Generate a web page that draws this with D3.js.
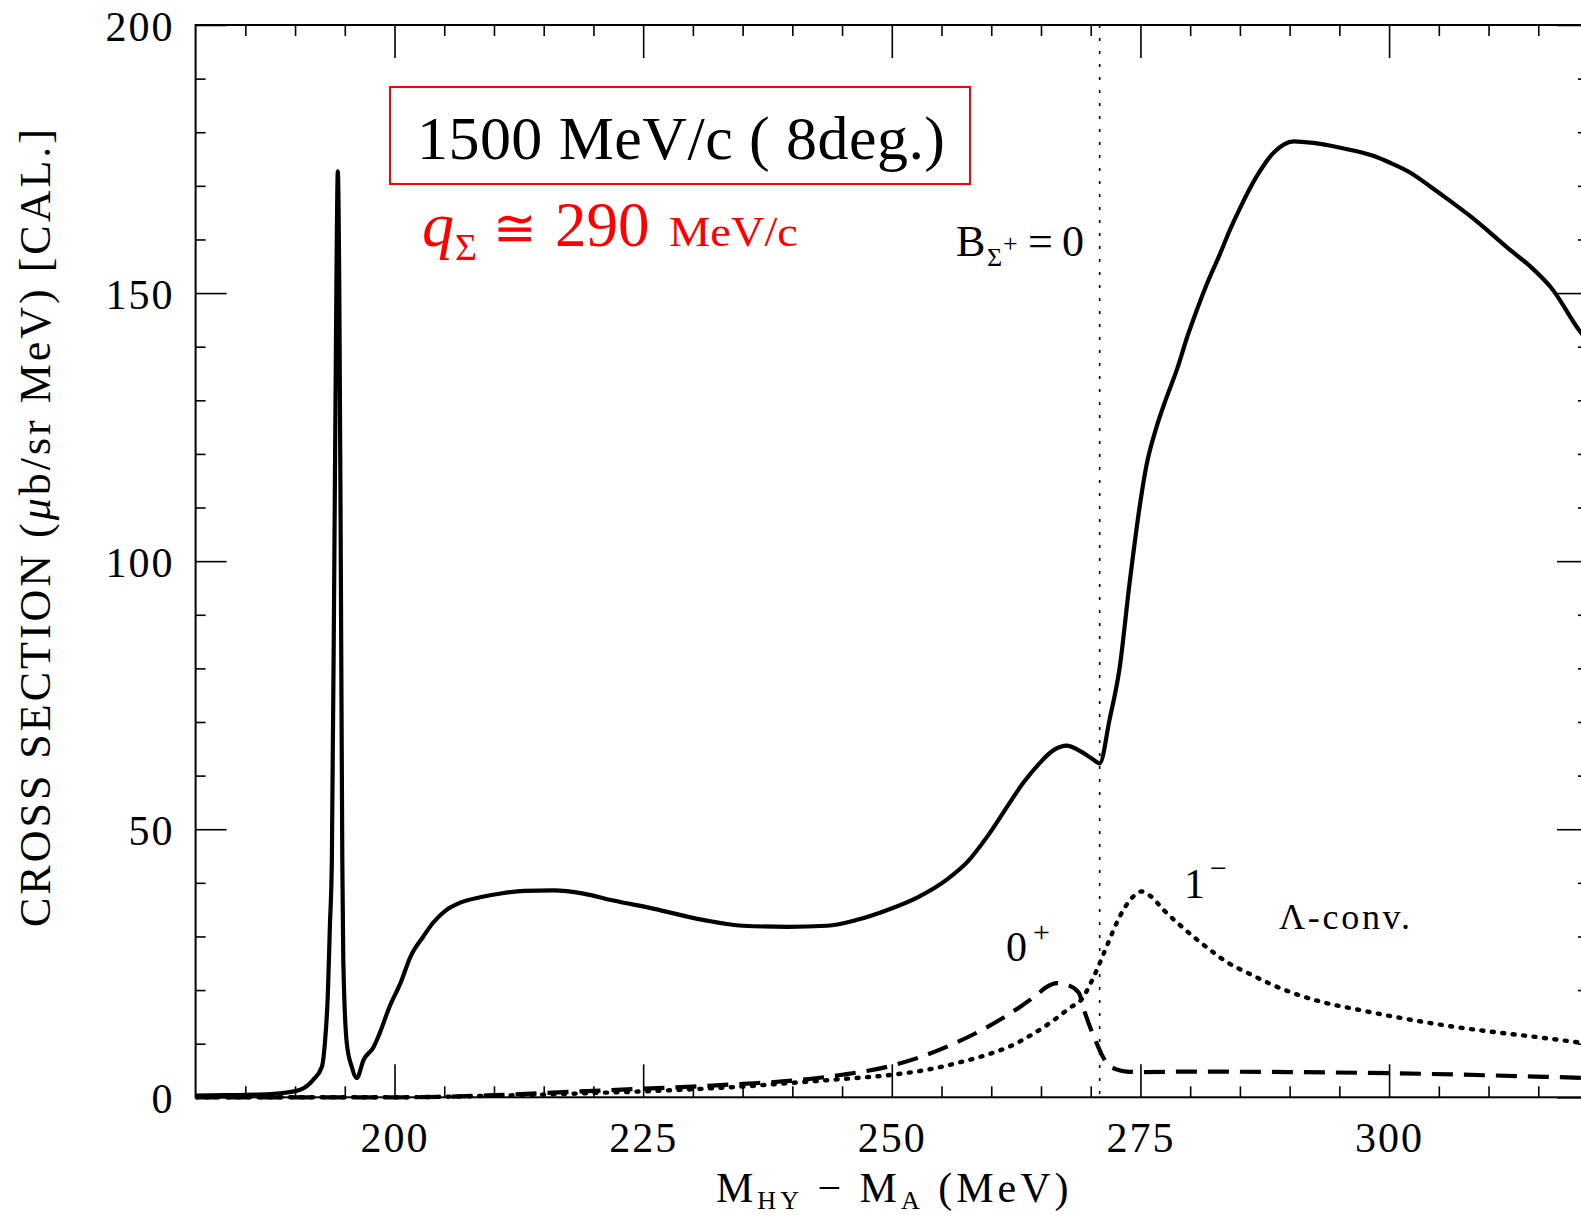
<!DOCTYPE html>
<html>
<head>
<meta charset="utf-8">
<script src="https://cdn.jsdelivr.net/npm/d3@7"></script>
<style>
  html, body { margin: 0; padding: 0; background: #fff; }
  svg { display: block; }
  .axis text { font-family: "Liberation Serif", serif; font-size: 42px; fill: #000; letter-spacing: 2px; }
  .axis line { stroke: #000; stroke-width: 1.6px; }
  .axis path { display: none; }
</style>
</head>
<body>
<svg id="chart" width="1581" height="1222"></svg>
<script>
// Missing-mass axis ticks (MeV) and cross-section axis ticks
const xMajorTicks = [200, 225, 250, 275, 300];
const xMinorTicks = [185, 190, 195, 205, 210, 215, 220, 230, 235, 240, 245, 255, 260, 265, 270, 280, 285, 290, 295, 305, 310, 315];
const yMajorTicks = [0, 50, 100, 150, 200];
const yMinorTicks = [10, 20, 30, 40, 60, 70, 80, 90, 110, 120, 130, 140, 160, 170, 180, 190];

// Total calculated spectrum (solid)
const totalE = [180, 183, 186, 188.5, 190.5, 191.8, 192.7, 193.0, 193.3, 193.5, 193.7, 193.95, 194.15, 194.3, 194.45, 194.6, 194.75, 194.85, 195.2, 195.7, 196.2, 196.9, 197.9, 198.5, 199.5, 200.6, 201.6, 202.9, 203.9, 205.2, 206.6, 208.6, 211, 213, 216, 219, 222, 226, 231, 235, 239.5, 243.5, 246.5, 249.5, 252.6, 255.6, 257.6, 259.7, 261.7, 263.2, 264.8, 266.3, 267.6, 268.9, 270.1, 270.9, 271.9, 272.9, 273.9, 274.9, 275.6, 276.6, 277.6, 278.7, 279.7, 280.7, 281.7, 283.0, 284.0, 285.0, 286.7, 288.4, 290.4, 292.4, 295.1, 298.4, 300.1, 302.1, 304.2, 306.2, 308.2, 310.2, 312.2, 314.3, 316.3, 319.3, 320];
const totalV = [0.3, 0.4, 0.5, 0.75, 1.4, 3.2, 5.7, 10.1, 19.4, 31.8, 44.3, 100, 150, 172.7, 150, 100, 44.3, 25.6, 10.1, 5.7, 3.6, 7.0, 9.4, 11.9, 16.9, 21.3, 26.2, 30.0, 32.6, 34.9, 36.3, 37.3, 38.1, 38.5, 38.6, 38.0, 36.7, 35.2, 33.1, 32.0, 31.8, 32.0, 33.1, 34.9, 37.3, 40.7, 43.9, 48.9, 54.5, 58.6, 62.2, 64.8, 65.6, 64.6, 63.2, 62.3, 70.5, 80.0, 95.8, 109.9, 117.8, 124.9, 130.4, 135.9, 141.8, 147.0, 151.8, 157.3, 161.8, 165.8, 171.8, 176.2, 178.3, 178.0, 177.1, 175.6, 174.3, 172.5, 169.8, 167.1, 164.3, 161.2, 158.0, 154.8, 151.0, 142.6, 141.0];

// 0+ component (dashed)
const zeroPlusE = [180, 200, 205, 210, 215, 220, 225, 230, 235, 240, 245, 250, 253, 256, 259, 261, 263, 264.5, 265.5, 266.6, 267.6, 268.8, 269.4, 270.0, 270.6, 271.1, 271.6, 272.6, 273.6, 275, 280, 290, 300, 310, 320];
const zeroPlusV = [0, 0, 0.1, 0.4, 0.8, 1.2, 1.6, 2.0, 2.5, 3.1, 4.2, 5.9, 7.6, 9.8, 12.5, 14.6, 17.0, 19.0, 20.5, 21.3, 21.0, 19.5, 15.9, 12.8, 10.1, 8.0, 6.4, 5.2, 4.8, 4.7, 4.8, 4.7, 4.5, 4.1, 3.6];

// 1- component (dotted)
const oneMinusE = [180, 200, 205, 210, 215, 220, 225, 230, 235, 240, 245, 250, 254, 257, 260, 262, 264, 266, 268, 269.1, 270.0, 270.9, 271.8, 272.6, 273.4, 274.2, 275.1, 276.1, 277.3, 278.8, 280.3, 282, 283.7, 286, 288, 290.4, 293, 297, 300, 303, 306, 310, 315, 320];
const oneMinusV = [0, 0, 0.1, 0.3, 0.5, 0.8, 1.1, 1.5, 2.0, 2.7, 3.4, 4.2, 5.3, 6.6, 8.2, 9.6, 11.6, 14.0, 16.8, 18.3, 21.3, 25.0, 29.0, 32.5, 35.3, 37.3, 38.4, 37.4, 35.0, 32.4, 30.0, 27.5, 25.2, 23.0, 21.2, 19.4, 17.9, 16.3, 15.2, 14.2, 13.3, 12.3, 11.2, 10.0];

// Sigma+ binding threshold
const thresholdE = 270.9;

const svg = d3.select("#chart");
const x = d3.scaleLinear().domain([180, 320]).range([195.6, 1588]);
const y = d3.scaleLinear().domain([0, 200]).range([1097.3, 25]);
const [x0, x1] = x.range();
const [yB, yT] = y.range();

const serif = "'Liberation Serif', 'DejaVu Serif', serif";

// Frame
svg.append("rect")
  .attr("x", x0).attr("y", yT)
  .attr("width", x1 - x0).attr("height", yB - yT)
  .attr("fill", "none").attr("stroke", "#000").attr("stroke-width", 2);

// Axes with inward ticks
const gB = svg.append("g").attr("class", "axis").attr("transform", `translate(0,${yB})`);
gB.call(d3.axisBottom(x).tickValues(xMajorTicks).tickSize(-33).tickPadding(56).tickFormat(d3.format("d")));
gB.selectAll("text").attr("dy", 0).attr("y", 55);
svg.append("g").attr("class", "axis").attr("transform", `translate(0,${yB})`)
  .call(d3.axisBottom(x).tickValues(xMinorTicks).tickSize(-11).tickFormat(""));

svg.append("g").attr("class", "axis").attr("transform", `translate(0,${yT})`)
  .call(d3.axisTop(x).tickValues(xMajorTicks).tickSize(-33).tickFormat(""));
svg.append("g").attr("class", "axis").attr("transform", `translate(0,${yT})`)
  .call(d3.axisTop(x).tickValues(xMinorTicks).tickSize(-11).tickFormat(""));

const gL = svg.append("g").attr("class", "axis").attr("transform", `translate(${x0},0)`);
gL.call(d3.axisLeft(y).tickValues(yMajorTicks).tickSize(-31).tickPadding(22).tickFormat(d3.format("d")));
gL.selectAll("text").attr("x", -21).attr("dy", "0.36em");
svg.append("g").attr("class", "axis").attr("transform", `translate(${x0},0)`)
  .call(d3.axisLeft(y).tickValues(yMinorTicks).tickSize(-10).tickFormat(""));

svg.append("g").attr("class", "axis").attr("transform", `translate(${x1},0)`)
  .call(d3.axisRight(y).tickValues(yMajorTicks).tickSize(-31).tickFormat(""));
svg.append("g").attr("class", "axis").attr("transform", `translate(${x1},0)`)
  .call(d3.axisRight(y).tickValues(yMinorTicks).tickSize(-10).tickFormat(""));

// Threshold marker
svg.append("line")
  .attr("x1", x(thresholdE)).attr("x2", x(thresholdE))
  .attr("y1", yT).attr("y2", yB)
  .attr("stroke", "#000").attr("stroke-width", 1.6)
  .attr("stroke-dasharray", "3 10");

// Curves
const line = d3.line().x(d => x(d[0])).y(d => y(d[1])).curve(d3.curveMonotoneX);
svg.append("clipPath").attr("id", "plotclip")
  .append("rect").attr("x", x0).attr("y", yT - 5).attr("width", x1 - x0).attr("height", yB - yT + 10);
const plot = svg.append("g").attr("clip-path", "url(#plotclip)");

plot.append("path")
  .datum(zeroPlusE.map((e, i) => [e, zeroPlusV[i]]))
  .attr("d", line).attr("fill", "none").attr("stroke", "#000")
  .attr("stroke-width", 4.2).attr("stroke-dasharray", "21 11");

plot.append("path")
  .datum(oneMinusE.map((e, i) => [e, oneMinusV[i]]))
  .attr("d", line).attr("fill", "none").attr("stroke", "#000")
  .attr("stroke-width", 4.4).attr("stroke-linecap", "round").attr("stroke-dasharray", "2 8.5");

plot.append("path")
  .datum(totalE.map((e, i) => [e, totalV[i]]))
  .attr("d", line).attr("fill", "none").attr("stroke", "#000")
  .attr("stroke-width", 4.2).attr("stroke-linejoin", "round");

// Axis titles
const yt = svg.append("text")
  .attr("transform", "translate(50,528) rotate(-90)")
  .attr("text-anchor", "middle")
  .attr("font-family", serif).attr("font-size", 44)
  .attr("textLength", 798).attr("lengthAdjust", "spacing");
yt.append("tspan").text("CROSS SECTION (");
yt.append("tspan").attr("font-style", "italic").text("μ");
yt.append("tspan").text("b/sr MeV) [CAL.]");

const xt = svg.append("text")
  .attr("x", 716).attr("y", 1202)
  .attr("font-family", serif).attr("font-size", 42).attr("letter-spacing", 4);
xt.append("tspan").text("M");
xt.append("tspan").attr("font-size", 26).attr("dy", 7).text("HY");
xt.append("tspan").attr("dy", -7).text("  −  M");
xt.append("tspan").attr("font-size", 26).attr("dy", 7).text("A");
xt.append("tspan").attr("dy", -7).text("  (MeV)");

// Beam momentum box
svg.append("rect")
  .attr("x", 390).attr("y", 87).attr("width", 580).attr("height", 97)
  .attr("fill", "none").attr("stroke", "#ff0000").attr("stroke-width", 2);
svg.append("text")
  .attr("x", 417).attr("y", 159)
  .attr("font-family", serif).attr("font-size", 62)
  .attr("textLength", 528).attr("lengthAdjust", "spacing")
  .text("1500 MeV/c ( 8deg.)");

// Momentum transfer
const red = "#ff0000";
svg.append("text").attr("x", 422).attr("y", 246).attr("font-family", serif)
  .attr("font-size", 64).attr("font-style", "italic").attr("fill", red).text("q");
svg.append("text").attr("x", 455).attr("y", 260).attr("font-family", serif)
  .attr("font-size", 38).attr("fill", red).text("Σ");
svg.append("text").attr("x", 493).attr("y", 246).attr("font-family", "'DejaVu Serif', serif")
  .attr("font-size", 52).attr("fill", red).text("≅");
svg.append("text").attr("x", 555).attr("y", 246).attr("font-family", serif)
  .attr("font-size", 63).attr("fill", red).text("290");
svg.append("text").attr("x", 669).attr("y", 246).attr("font-family", serif)
  .attr("font-size", 42).attr("fill", red)
  .attr("textLength", 129).attr("lengthAdjust", "spacingAndGlyphs").text("MeV/c");

// Threshold label
const bt = svg.append("text").attr("font-family", serif).attr("font-size", 44);
bt.append("tspan").attr("x", 956).attr("y", 256).text("B");
bt.append("tspan").attr("x", 987).attr("y", 266).attr("font-size", 26).text("Σ");
bt.append("tspan").attr("x", 1003).attr("y", 252).attr("font-size", 26).text("+");
bt.append("tspan").attr("x", 1028).attr("y", 256).text("=");
bt.append("tspan").attr("x", 1062).attr("y", 256).text("0");

// Component labels
const zl = svg.append("text").attr("font-family", serif).attr("font-size", 42);
zl.append("tspan").attr("x", 1006).attr("y", 961).text("0");
zl.append("tspan").attr("x", 1033).attr("y", 942).attr("font-size", 30).text("+");

const ol = svg.append("text").attr("font-family", serif).attr("font-size", 42);
ol.append("tspan").attr("x", 1184).attr("y", 898).text("1");
ol.append("tspan").attr("x", 1210).attr("y", 878).attr("font-size", 30).text("−");

svg.append("text").attr("x", 1279).attr("y", 929)
  .attr("font-family", serif).attr("font-size", 36)
  .attr("textLength", 131).attr("lengthAdjust", "spacing")
  .text("Λ-conv.");
</script>
</body>
</html>
